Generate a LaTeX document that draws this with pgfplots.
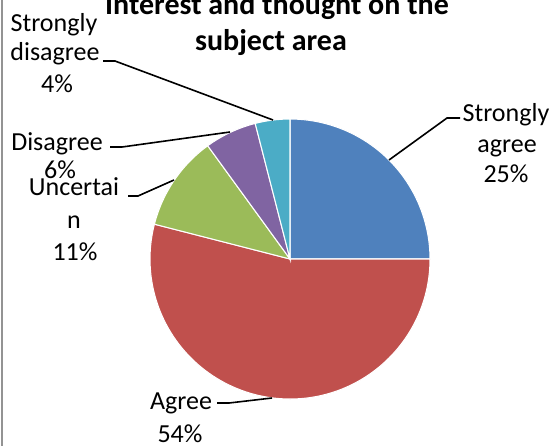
\documentclass[border=0pt]{standalone}
\usepackage{pgfplots}
\pgfplotsset{compat=1.18}
\usepackage{pgfplotstable}
\usepackage{fontspec}
\setmainfont{Carlito}

\definecolor{csa}{HTML}{4F81BD}
\definecolor{cag}{HTML}{C0504D}
\definecolor{cun}{HTML}{9BBB59}
\definecolor{cdi}{HTML}{8064A2}
\definecolor{csd}{HTML}{4BACC6}

% share of answers, in per cent, clockwise from 12 o'clock
\pgfplotstableread{
label value
SA 25
A  54
U  11
D  6
SD 4
}\piedata

% pie centre and radius in px (1px = 0.75pt)
\newcommand{\cx}{290}
\newcommand{\cy}{259}
\newcommand{\slice}[3]{%
  \fill[#1, draw=white, line width=0.8pt] (axis cs:\cx,\cy)
    -- (axis cs:{\cx+140*cos(#2)},{\cy-140*sin(#2)})
    arc[start angle=#2, end angle=#3, radius=105pt] -- cycle;}
\newcommand{\lbl}[3]{\node[anchor=base] at (axis cs:#1,#2) {#3};}

\begin{document}
\begin{tikzpicture}[every node/.append style={font=\fontsize{19.5}{24}\selectfont, inner sep=0pt}]
\pgfplotstablegetelem{0}{value}\of\piedata \pgfmathsetmacro\vSA{\pgfplotsretval}
\pgfplotstablegetelem{1}{value}\of\piedata \pgfmathsetmacro\vA{\pgfplotsretval}
\pgfplotstablegetelem{2}{value}\of\piedata \pgfmathsetmacro\vU{\pgfplotsretval}
\pgfplotstablegetelem{3}{value}\of\piedata \pgfmathsetmacro\vD{\pgfplotsretval}
\pgfplotstablegetelem{4}{value}\of\piedata \pgfmathsetmacro\vSD{\pgfplotsretval}
\pgfmathsetmacro\aO{90}
\pgfmathsetmacro\aA{\aO-3.6*\vSA}
\pgfmathsetmacro\aB{\aA-3.6*\vA}
\pgfmathsetmacro\aC{\aB-3.6*\vU}
\pgfmathsetmacro\aD{\aC-3.6*\vD}
\pgfmathsetmacro\aE{\aD-3.6*\vSD}
\useasboundingbox (0,0) rectangle (416.25pt,335.25pt);
\begin{axis}[
    at={(0,0)}, anchor=south west,
    hide axis, scale only axis, clip=false,
    x=0.75pt, y=0.75pt,
    xmin=0, xmax=555, ymin=0, ymax=447,
    y dir=reverse,
]
  \slice{csa}{\aO}{\aA}
  \slice{cag}{\aA}{\aB}
  \slice{cun}{\aB}{\aC}
  \slice{cdi}{\aC}{\aD}
  \slice{csd}{\aD}{\aE}

  % leader lines
  \begin{scope}[line width=1.2pt]
  \draw (axis cs:103,61) -- (axis cs:115,61) -- (axis cs:273,120);
  \draw (axis cs:110,147) -- (axis cs:122,147) -- (axis cs:230,132);
  \draw (axis cs:128,196) -- (axis cs:138,196) -- (axis cs:174,180);
  \draw (axis cs:389,160) -- (axis cs:447,118) -- (axis cs:460,118);
  \draw (axis cs:217,403) -- (axis cs:229,403) -- (axis cs:272,398);
  \end{scope}

  % labels
  \lbl{54}{31}{Strongly}
  \lbl{55}{60}{disagree}
  \lbl{57}{92}{4\%}
  \lbl{57}{150}{Disagree}
  \lbl{60}{178}{6\%}
  \lbl{74}{195}{Uncertai}
  \lbl{74}{228}{n}
  \lbl{75}{260}{11\%}
  \lbl{506}{121}{Strongly}
  \lbl{507}{152}{agree}
  \lbl{506}{182}{25\%}
  \lbl{181}{409}{Agree}
  \lbl{180}{442}{54\%}

  % title, cut off at the top
  \node[anchor=base, font=\fontsize{22.5}{27}\selectfont\bfseries] at (axis cs:277,14) {Interest and thought on the};
  \node[anchor=base, font=\fontsize{22.5}{27}\selectfont\bfseries] at (axis cs:271,50) {subject area};

  % frame edge on the left
  \draw[gray!85, line width=1.5pt] (axis cs:2,0) -- (axis cs:2,446);
\end{axis}
\end{tikzpicture}
\end{document}
